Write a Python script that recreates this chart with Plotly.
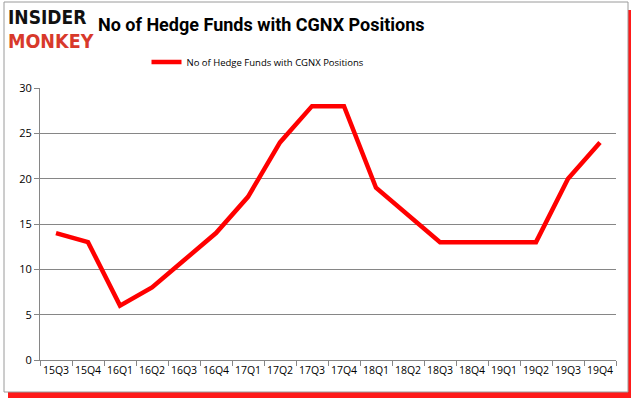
import plotly.graph_objects as go

quarters = ["15Q3", "15Q4", "16Q1", "16Q2", "16Q3", "16Q4", "17Q1", "17Q2", "17Q3",
            "17Q4", "18Q1", "18Q2", "18Q3", "18Q4", "19Q1", "19Q2", "19Q3", "19Q4"]
hedge_funds = [14, 13, 6, 8, 11, 14, 18, 24, 28, 28, 19, 16, 13, 13, 13, 13, 20, 24]
series_name = "No of Hedge Funds with CGNX Positions"
title_text = "No of Hedge Funds with CGNX Positions"
y_ticks = [0, 5, 10, 15, 20, 25, 30]

W, H = 636, 405
L, R, T, B = 40, 20, 88, 45
PW, PH = W - L - R, H - T - B


def px(x):
    return (x - L) / PW


def py(y):
    return (H - B - y) / PH


fig = go.Figure()
fig.add_trace(go.Scatter(
    x=quarters, y=hedge_funds, mode="lines", name=series_name,
    line=dict(color="#ff0000", width=4.5),
))

grid = "#868686"
fig.update_layout(
    width=W, height=H,
    margin=dict(l=L, r=R, t=T, b=B, autoexpand=False),
    paper_bgcolor="white", plot_bgcolor="white",
    font=dict(family="Open Sans", size=10.5, color="#000000"),
    showlegend=True,
    legend=dict(orientation="h", xref="container", yref="container",
                x=258 / W, xanchor="center", y=1 - 62 / H, yanchor="middle",
                font=dict(size=9.5, family="Open Sans"), itemwidth=30,
                bgcolor="rgba(0,0,0,0)"),
    xaxis=dict(type="category", range=[-0.5, 17.5], showgrid=False, automargin=False,
               showline=True, linecolor=grid, linewidth=1, tickangle=0,
               ticks="outside", tickson="boundaries", ticklen=5, tickcolor=grid,
               tickfont=dict(size=10.5)),
    yaxis=dict(range=[0, 30], tickvals=y_ticks, showgrid=True, gridcolor=grid,
               gridwidth=1, showline=True, linecolor=grid, ticks="outside", automargin=False,
               ticklen=5, tickcolor=grid, zeroline=False, tickfont=dict(size=11)),
)

# frame with red shadow
fig.add_shape(type="rect", xref="paper", yref="paper", layer="below",
              x0=px(8), x1=px(631), y0=py(398), y1=py(10),
              line=dict(width=0), fillcolor="#ff1a1a")
fig.add_shape(type="rect", xref="paper", yref="paper", layer="below",
              x0=px(4), x1=px(628), y0=py(392), y1=py(2),
              line=dict(color="#9a9a9a", width=1), fillcolor="white")

fig.add_annotation(text="<b>" + title_text + "</b>",
                   xref="paper", yref="paper", x=px(261), y=py(25),
                   showarrow=False, font=dict(size=18, family="Roboto", color="#000"),
                   xanchor="center", yanchor="middle")
fig.add_annotation(text="<b>INSIDER</b>", xref="paper", yref="paper",
                   x=px(7), y=py(17.5), xanchor="left", yanchor="middle",
                   borderpad=0,
                   showarrow=False, font=dict(size=19, family="DejaVu Sans Condensed", color="#111"))
fig.add_annotation(text="<b>MONKEY</b>", xref="paper", yref="paper",
                   x=px(7), y=py(41.5), xanchor="left", yanchor="middle",
                   borderpad=0,
                   showarrow=False, font=dict(size=19.5, family="DejaVu Sans Condensed", color="#d8392b"))

fig.write_html("out.html", config={"displayModeBar": False},
               post_script="document.body.style.margin='0';document.body.style.overflow='hidden';")
